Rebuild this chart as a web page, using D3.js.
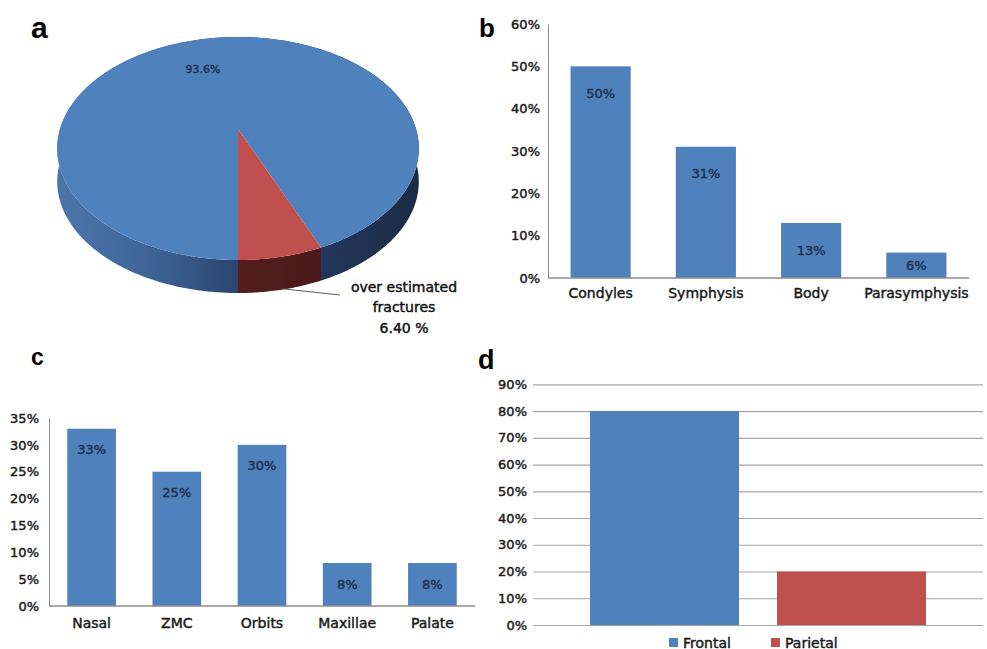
<!DOCTYPE html>
<html>
<head>
<meta charset="utf-8">
<script src="https://cdn.jsdelivr.net/npm/d3@7"></script>
<style>
  html, body { margin: 0; padding: 0; background: #fff; }
  svg { display: block; }
  text { font-family: "DejaVu Sans", sans-serif; }
  .heavy { stroke-width: 0.45px; paint-order: stroke; }
  .panel-letter { font-family: "Liberation Sans", Arial, sans-serif; font-weight: bold; fill: #000; }
</style>
</head>
<body>
<svg id="fig" width="987" height="649"></svg>
<script>
// ---- data ----
// (a) overall estimate of fractures
const pieNames = ["correctly estimated fractures", "over estimated fractures"];
const pieValues = [93.6, 6.4];
const pieValueText = ["93.6%", "6.40 %"];

// (b) mandibular fracture sites
const mandibleSites = ["Condyles", "Symphysis", "Body", "Parasymphysis"];
const mandibleValues = [50, 31, 13, 6];
const mandibleTicks = [0, 10, 20, 30, 40, 50, 60];

// (c) midface fracture sites
const midfaceSites = ["Nasal", "ZMC", "Orbits", "Maxillae", "Palate"];
const midfaceValues = [33, 25, 30, 8, 8];
const midfaceTicks = [0, 5, 10, 15, 20, 25, 30, 35];

// (d) skull vault fracture sites
const vaultSites = ["Frontal", "Parietal"];
const vaultValues = [80, 20];
const vaultTicks = [0, 10, 20, 30, 40, 50, 60, 70, 80, 90];

const BLUE = "#4f81bd", RED = "#c0504d";
const AXIS = "#8c8c8c", GRID = "#a6a6a6";
const TICK_TEXT = "#1a1a1a", BAR_TEXT = "#1f3350";
const pct = d => d + "%";

const svg = d3.select("#fig");

// text drawn slightly heavier: stroke in the fill colour
const heavy = (sel, color) => sel.classed("heavy", true).attr("fill", color).attr("stroke", color);

// ---- panel letters ----
[["a", 31, 38, 30], ["b", 479, 37, 26], ["c", 31, 365, 23], ["d", 478, 369, 27]]
  .forEach(([t, x, y, s]) => svg.append("text").attr("class", "panel-letter")
    .attr("x", x).attr("y", y).attr("font-size", s).text(t));

// ---- (a) 3-D pie ----
(function () {
  const g = svg.append("g");
  const cx = 238, depth = 33;
  // perspective projection of the unit disc: v>0 is toward the viewer
  const r = -0.1749, p = 85.53, q = 129, k = 178;
  const proj = (a, dy = 0) => {
    const u = Math.sin(a), v = -Math.cos(a), den = 1 + r * v;
    return [cx + k * u / den, (p * v + q) / den + dy];
  };
  const apex = [cx, q];
  const arcPts = (a0, a1, dy) => {
    const n = Math.max(2, Math.ceil(Math.abs(a1 - a0) / 0.01));
    return d3.range(n + 1).map(i => proj(a0 + (a1 - a0) * i / n, dy));
  };
  const slices = d3.pie().sort(null).startAngle(Math.PI).endAngle(3 * Math.PI)(pieValues);

  const defs = svg.append("defs");
  const gb = defs.append("linearGradient").attr("id", "wallBlue")
    .attr("gradientUnits", "userSpaceOnUse").attr("x1", 57).attr("x2", 419).attr("y1", 0).attr("y2", 0);
  [[0, "#4c76ab"], [0.25, "#3f6598"], [0.5, "#2a4570"], [0.75, "#21365a"], [1, "#1b2b44"]]
    .forEach(([o, c]) => gb.append("stop").attr("offset", o).attr("stop-color", c));
  const gr = defs.append("linearGradient").attr("id", "wallRed")
    .attr("gradientUnits", "userSpaceOnUse").attr("x1", 238).attr("x2", 322).attr("y1", 0).attr("y2", 0);
  [[0, "#551d1d"], [1, "#4a1a1a"]]
    .forEach(([o, c]) => gr.append("stop").attr("offset", o).attr("stop-color", c));
  const wallFill = ["url(#wallBlue)", "url(#wallRed)"];
  const topFill = [BLUE, RED];
  const line = d3.line();

  // side walls
  slices.forEach((s, i) => {
    const top = arcPts(s.startAngle, s.endAngle, 0);
    const bot = arcPts(s.startAngle, s.endAngle, depth).reverse();
    g.append("path").attr("d", line(top.concat(bot)) + "Z").attr("fill", wallFill[i]);
  });
  // top faces
  slices.forEach((s, i) => {
    const pts = [apex].concat(arcPts(s.startAngle, s.endAngle, 0));
    g.append("path").attr("d", line(pts) + "Z").attr("fill", topFill[i]);
  });

  // labels
  g.append("text").attr("x", 203).attr("y", 69).attr("dy", "0.35em")
    .attr("text-anchor", "middle").attr("font-size", 11)
    .text(pieValueText[0]).call(heavy, BAR_TEXT);

  const red = slices[1];
  const mid = proj((red.startAngle + red.endAngle) / 2, depth);
  g.append("line").attr("x1", mid[0] + 2).attr("y1", mid[1] - 1).attr("x2", 340).attr("y2", 295)
    .attr("stroke", "#5a5a5a").attr("stroke-width", 1);
  const lt = g.append("text").attr("text-anchor", "middle").attr("font-size", 14).call(heavy, "#111");
  const words = pieNames[1].split(" ");
  [[words.slice(0, 2).join(" "), 292], [words.slice(2).join(" "), 312], [pieValueText[1], 333]]
    .forEach(([t, y]) => lt.append("tspan").attr("x", 404).attr("y", y).text(t));
})();

// ---- generic column chart (b, c) ----
function columns(cfg) {
  const g = svg.append("g");
  const y = d3.scaleLinear().domain([0, d3.max(cfg.ticks)]).range([cfg.y0, cfg.y1]);
  const x = d3.scaleBand().domain(cfg.cats).range([cfg.x0, cfg.x1]);
  const bw = x.step() / 1.75;

  const yAxis = d3.axisLeft(y).tickValues(cfg.ticks).tickFormat(pct).tickSize(0).tickPadding(cfg.tickPad);
  const ya = g.append("g").attr("transform", `translate(${cfg.x0},0)`).call(yAxis);
  ya.select(".domain").attr("stroke", AXIS);
  ya.selectAll("text").attr("font-size", 13).attr("font-family", "DejaVu Sans").call(heavy, TICK_TEXT);

  g.selectAll("rect").data(cfg.values).join("rect")
    .attr("x", (d, i) => x(cfg.cats[i]) + (x.step() - bw) / 2)
    .attr("width", bw)
    .attr("y", d => y(d))
    .attr("height", d => y(0) - y(d))
    .attr("fill", BLUE);

  g.append("line").attr("x1", cfg.x0).attr("x2", cfg.x1).attr("y1", y(0)).attr("y2", y(0))
    .attr("stroke", AXIS).attr("stroke-width", 1.3);

  g.selectAll("text.val").data(cfg.values).join("text").attr("class", "val")
    .attr("x", (d, i) => x(cfg.cats[i]) + x.step() / 2)
    .attr("y", d => y(d) + Math.min(cfg.labelDrop, (y(0) - y(d)) / 2))
    .attr("dy", "0.35em").attr("text-anchor", "middle")
    .attr("font-size", 13).text(pct).call(heavy, BAR_TEXT);

  g.selectAll("text.cat").data(cfg.cats).join("text").attr("class", "cat")
    .attr("x", d => x(d) + x.step() / 2).attr("y", cfg.catY)
    .attr("text-anchor", "middle").attr("font-size", 14).text(d => d).call(heavy, TICK_TEXT);
}

columns({ cats: mandibleSites, values: mandibleValues, ticks: mandibleTicks,
  x0: 548, x1: 969, y0: 278, y1: 24, tickPad: 8, labelDrop: 27, catY: 298 });

columns({ cats: midfaceSites, values: midfaceValues, ticks: midfaceTicks,
  x0: 49, x1: 475, y0: 606, y1: 418, tickPad: 10, labelDrop: 21, catY: 628 });

// ---- (d) clustered columns with gridlines and legend ----
(function () {
  const g = svg.append("g");
  const x0 = 533, x1 = 983;
  const y = d3.scaleLinear().domain([0, d3.max(vaultTicks)]).range([625, 384.3]);
  const x = d3.scaleBand().domain(vaultSites).range([x0, x1]).paddingInner(0.203).paddingOuter(0.305);
  const colors = d3.scaleOrdinal().domain(vaultSites).range([BLUE, RED]);

  const yAxis = d3.axisLeft(y).tickValues(vaultTicks).tickFormat(pct).tickSize(-(x1 - x0)).tickPadding(6);
  const ya = g.append("g").attr("transform", `translate(${x0},0)`).call(yAxis);
  ya.select(".domain").remove();
  ya.selectAll(".tick line").attr("stroke", GRID).attr("stroke-width", 1.2);
  ya.selectAll("text").attr("font-size", 13).attr("font-family", "DejaVu Sans").call(heavy, TICK_TEXT);

  g.selectAll("rect.bar").data(vaultValues).join("rect").attr("class", "bar")
    .attr("x", (d, i) => x(vaultSites[i])).attr("width", x.bandwidth())
    .attr("y", d => y(d)).attr("height", d => y(0) - y(d))
    .attr("fill", (d, i) => colors(vaultSites[i]));

  const lg = g.append("g");
  [[669, 683], [771, 785]].forEach(([sx, tx], i) => {
    lg.append("rect").attr("x", sx).attr("y", 638).attr("width", 9).attr("height", 9)
      .attr("fill", colors(vaultSites[i]));
    lg.append("text").attr("x", tx).attr("y", 647.5).attr("font-size", 14)
      .text(vaultSites[i]).call(heavy, TICK_TEXT);
  });
})();
</script>
</body>
</html>
